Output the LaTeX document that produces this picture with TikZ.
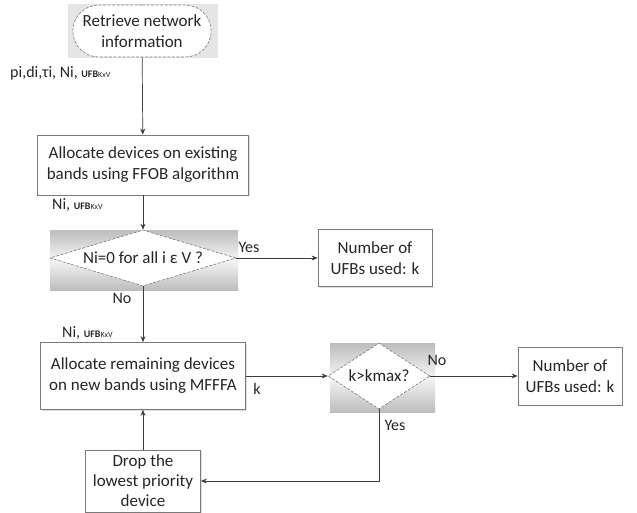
\documentclass[tikz,border=0pt]{standalone}
\usepackage{fontspec}
\setmainfont{Carlito}
\usetikzlibrary{arrows.meta,shapes.geometric,shapes.misc,shadows}
\definecolor{flowline}{HTML}{3C3C3C}
\definecolor{flowedge}{HTML}{7A7A7A}
\definecolor{flowshade}{HTML}{BDBDBD}
\definecolor{flowtext}{HTML}{262626}

\tikzset{
  procbox/.style={draw=flowedge, line width=0.8pt, fill=white, align=center, text=flowtext,
    font=\fontsize{17}{21}\selectfont, inner sep=2pt,
    drop shadow={shadow xshift=1.2pt, shadow yshift=-1.2pt, opacity=0.25}},
  decide/.style={diamond, draw=flowedge, line width=0.6pt, dash pattern=on 3pt off 1.5pt,
    fill=white, inner sep=0pt, align=center, text=flowtext, font=\fontsize{17}{21}\selectfont},
  termbox/.style={rounded rectangle, draw=flowedge, line width=0.6pt, dash pattern=on 3pt off 1.5pt,
    fill=white, align=center, text=flowtext, font=\fontsize{17}{21}\selectfont},
  flowarrow/.style={draw=flowline, line width=0.7pt, -{Stealth[length=6pt,width=5pt]}},
  flowlbl/.style={text=flowtext, font=\fontsize{16}{18}\selectfont, inner sep=0pt},
  shadebg/.style={top color=flowshade, bottom color=flowshade, middle color=gray!8},
}
\newcommand{\ufbsub}{{\fontsize{10}{11}\selectfont\bfseries UFB}{\fontsize{8}{9}\selectfont KxV}}

\begin{document}
\begin{tikzpicture}[x=1pt,y=-1pt]
  \useasboundingbox (0,0) rectangle (637,513);
  \fill[white] (0,0) rectangle (637,513);

  % Start
  \fill[gray!20] (68,4) rectangle (218,58);
  \node[termbox, minimum width=145pt, minimum height=52pt] (start) at (142,31) {Retrieve network\\information};
  \node[flowlbl, anchor=west] (inlbl) at (10,73) {pi,di,τi, Ni, \ufbsub};

  % FFOB step
  \node[procbox, minimum width=211pt, minimum height=60pt] (ffob) at (143,165) {Allocate devices on existing\\bands using FFOB algorithm};
  \node[flowlbl, anchor=west] (ffoblbl) at (52,205) {Ni, \ufbsub};

  % First decision
  \shade[shadebg] (50,230) rectangle (238,290);
  \node[decide, aspect=3.3, minimum width=186pt, minimum height=56pt] (alldone) at (143,258) {Ni=0 for all i ε V ?};
  \node[procbox, minimum width=114pt, minimum height=57pt] (used1) at (375,258) {Number of\\UFBs used: k};

  % MFFFA step
  \node[flowlbl, anchor=west] (mfflbl) at (62,333) {Ni, \ufbsub};
  \node[procbox, minimum width=205pt, minimum height=67pt] (mfffa) at (143,376) {Allocate remaining devices\\on new bands using MFFFA};

  % Second decision
  \shade[shadebg] (330,343) rectangle (435,412);
  \node[decide, aspect=1.55, minimum width=102pt, minimum height=66pt] (kcheck) at (379,376) {k>kmax?};
  \node[procbox, minimum width=104pt, minimum height=58pt] (used2) at (570,376) {Number of\\UFBs used: k};

  % Drop step
  \node[procbox, minimum width=115pt, minimum height=62pt, font=\fontsize{17}{20}\selectfont] (drop) at (143,481) {Drop the\\lowest priority\\device};

  % Connectors
  \draw[flowarrow] (start) -- (ffob);
  \draw[flowarrow] (ffob) -- (alldone);
  \draw[flowarrow] (alldone) -- (used1);
  \draw[flowarrow] (alldone) -- (mfffa);
  \draw[flowarrow] (mfffa) -- (kcheck);
  \draw[flowarrow] (kcheck) -- (used2);
  \draw[flowarrow] (kcheck.south) |- (drop.east);
  \draw[flowarrow] (drop) -- (mfffa);

  % Branch labels
  \node[flowlbl] (yes1) at (249,247) {Yes};
  \node[flowlbl] (no1) at (122,298) {No};
  \node[flowlbl] (klbl) at (257,389) {k};
  \node[flowlbl] (no2) at (437,360) {No};
  \node[flowlbl] (yes2) at (395,425) {Yes};
\end{tikzpicture}
\end{document}
